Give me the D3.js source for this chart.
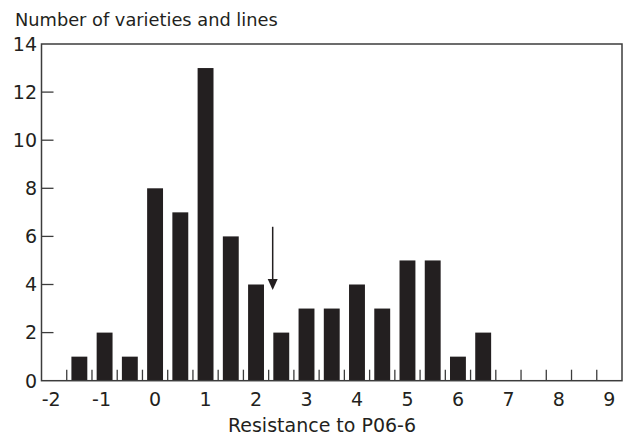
<!DOCTYPE html>
<html>
<head>
<meta charset="utf-8">
<script src="https://cdn.jsdelivr.net/npm/d3@7"></script>
<style>
  body { margin: 0; background: #fff; }
  text { font-family: "DejaVu Sans", sans-serif; fill: #231f20; }
</style>
</head>
<body>
<div id="chart"></div>
<script>
// bin centres (resistance score) and counts
const binCenters = [-1.5, -1, -0.5, 0, 0.5, 1, 1.5, 2, 2.5, 3, 3.5, 4, 4.5, 5, 5.5, 6, 6.5];
const counts = [1, 2, 1, 8, 7, 13, 6, 4, 2, 3, 3, 4, 3, 5, 5, 1, 2];
const xTickLabels = [-2, -1, 0, 1, 2, 3, 4, 5, 6, 7, 8, 9];
const yTickLabels = [0, 2, 4, 6, 8, 10, 12, 14];
// arrow marker: x position, from y to y
const arrowX = [2.33];
const arrowY = [6.4, 3.77];

const width = 624, height = 437;

const svg = d3.select("#chart")
  .append("svg")
  .attr("width", width)
  .attr("height", height);

const x = d3.scaleLinear().domain([-2.25, 9.25]).range([41.5, 622]);
const y = d3.scaleLinear().domain([0, 14]).range([380.7, 44]);

const ink = "#231f20";
const axisCol = "#3c3c3c";

// bars
const barW = (x(0.5) - x(0)) * 0.63;
svg.selectAll("rect.bar")
  .data(binCenters)
  .join("rect")
  .attr("class", "bar")
  .attr("x", (d) => x(d) - barW / 2)
  .attr("y", (d, i) => y(counts[i]))
  .attr("width", barW)
  .attr("height", (d, i) => y(0) - y(counts[i]))
  .attr("fill", ink);

// small ticks between bins, pointing up from the baseline
const minorTicks = d3.range(-1.75, 9, 0.5);
svg.selectAll("line.xtick")
  .data(minorTicks)
  .join("line")
  .attr("x1", (d) => x(d))
  .attr("x2", (d) => x(d))
  .attr("y1", y(0))
  .attr("y2", y(0) - 11)
  .attr("stroke", axisCol)
  .attr("stroke-width", 1.3);

// y ticks pointing inward
svg.selectAll("line.ytick")
  .data(yTickLabels.filter((d) => d > 0 && d < 14))
  .join("line")
  .attr("x1", x(-2.25))
  .attr("x2", x(-2.25) + 12)
  .attr("y1", (d) => y(d))
  .attr("y2", (d) => y(d))
  .attr("stroke", axisCol)
  .attr("stroke-width", 1.3);

// frame: left, bottom, top, right
svg.append("rect")
  .attr("x", x(-2.25))
  .attr("y", y(14))
  .attr("width", x(9.25) - x(-2.25))
  .attr("height", y(0) - y(14))
  .attr("fill", "none")
  .attr("stroke", axisCol)
  .attr("stroke-width", 1.5);

// tick labels
svg.selectAll("text.ylab")
  .data(yTickLabels)
  .join("text")
  .attr("x", 37)
  .attr("y", (d) => y(d))
  .attr("dy", "0.36em")
  .attr("text-anchor", "end")
  .style("font-size", "19px")
  .text((d) => d);

svg.selectAll("text.xlab")
  .data(xTickLabels)
  .join("text")
  .attr("x", (d) => x(d) + (d < 0 ? -3 : 0))
  .attr("y", 405.5)
  .attr("text-anchor", "middle")
  .style("font-size", "19px")
  .text((d) => d);

// titles
svg.append("text")
  .attr("x", 15)
  .attr("y", 26)
  .style("font-size", "17.8px")
  .text("Number of varieties and lines");

svg.append("text")
  .attr("x", 322)
  .attr("y", 431.5)
  .attr("text-anchor", "middle")
  .style("font-size", "19px")
  .text("Resistance to P06-6");

// arrow
svg.append("line")
  .attr("x1", x(arrowX[0]))
  .attr("x2", x(arrowX[0]))
  .attr("y1", y(arrowY[0]))
  .attr("y2", y(arrowY[1]) - 8)
  .attr("stroke", ink)
  .attr("stroke-width", 1.5);

svg.append("path")
  .attr("d", d3.line()([
    [x(arrowX[0]) - 5, y(arrowY[1]) - 11],
    [x(arrowX[0]) + 5, y(arrowY[1]) - 11],
    [x(arrowX[0]), y(arrowY[1])]
  ]) + "Z")
  .attr("fill", ink);
</script>
</body>
</html>
